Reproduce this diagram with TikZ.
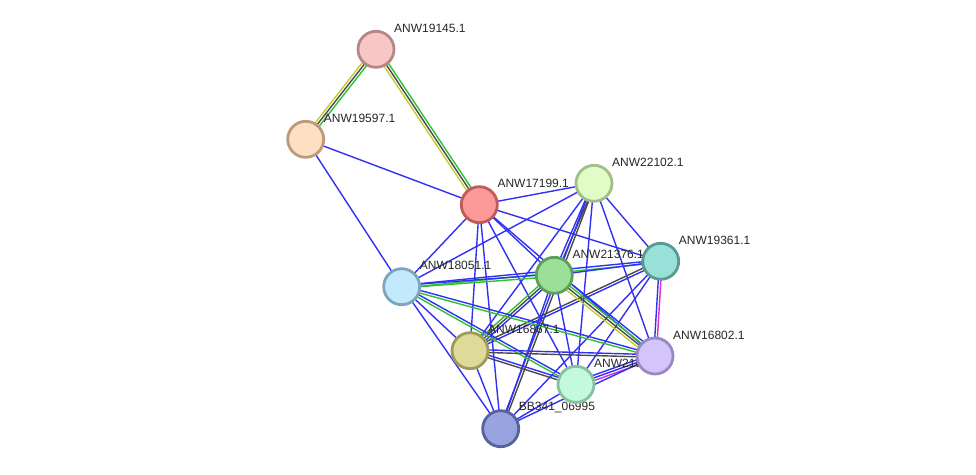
\documentclass[tikz,border=0pt]{standalone}
\usepackage{fontspec}
\setmainfont{Liberation Sans}
\usepackage{tikz}
\usetikzlibrary{calc}

\definecolor{lnblue}{HTML}{3131F5}
\definecolor{lngreen}{HTML}{2FC12F}
\definecolor{lngray}{HTML}{4A4A4A}
\definecolor{lnyellow}{HTML}{C4CC2E}
\definecolor{lnmagenta}{HTML}{D22ED2}

% parallel evidence lines between two proteins
\newcommand{\Link}[3]{
	\foreach \c [count=\i] in {#3} {\xdef\nlines{\i}}
	\foreach \c [count=\i] in {#3} {
		\pgfmathsetmacro{\off}{(\i-(\nlines+1)/2)*2.6}
		\draw[\c] ($(#1)!\off pt!90:(#2)$) -- ($(#2)!\off pt!-90:(#1)$);
	}
}
\newcommand{\Protein}[3]{
	\definecolor{pfill#1}{HTML}{#2}
	\definecolor{pdraw#1}{HTML}{#3}
	\node[prot, fill=pfill#1, draw=pdraw#1] (#1n) at (#1) {};
}
\newcommand{\Tag}[2]{
	\node[plabel] (#1l) at ($(#1)+(18,-21)$) {#2};
}

\begin{document}
\begin{tikzpicture}[x=1pt, y=-1pt,
	eb/.style={lnblue, line width=1.4pt},
	eg/.style={lngreen, line width=1.4pt},
	ek/.style={lngray, line width=1.4pt},
	ey/.style={lnyellow, line width=1.4pt},
	em/.style={lnmagenta, line width=1.4pt},
	prot/.style={circle, minimum size=36pt, inner sep=0pt, line width=2.8pt},
	plabel/.style={anchor=west, inner sep=0pt, font=\fontsize{12}{14}\selectfont, text=black!85}]

	\useasboundingbox (0,0) rectangle (976,474);

	\coordinate (A) at (376,49.3);
	\coordinate (B) at (305.7,139.3);
	\coordinate (C) at (479.3,204.7);
	\coordinate (D) at (594,183.3);
	\coordinate (E) at (660.7,261.3);
	\coordinate (F) at (554.3,275.3);
	\coordinate (G) at (401.7,286.7);
	\coordinate (H) at (470,350.7);
	\coordinate (I) at (655,356);
	\coordinate (J) at (576,384.3);
	\coordinate (K) at (500.7,428.7);

	\Link{A}{B}{ey,ek,eg}
	\Link{A}{C}{ey,ek,eg}
	\Link{B}{C}{eb}
	\Link{B}{G}{eb}
	\Link{C}{D}{eb}
	\Link{C}{E}{eb}
	\Link{C}{F}{eb}
	\Link{C}{I}{eb}
	\Link{C}{G}{eb}
	\Link{C}{H}{eb}
	\Link{C}{J}{eb}
	\Link{C}{K}{eb}
	\Link{D}{E}{eb}
	\Link{D}{F}{eb,ek}
	\Link{D}{K}{eb,ek}
	\Link{D}{G}{eb}
	\Link{D}{H}{eb}
	\Link{D}{I}{eb}
	\Link{D}{J}{eb}
	\Link{G}{E}{eg,eb}
	\Link{G}{F}{eg,eb}
	\Link{E}{F}{eb}
	\Link{E}{H}{ek,eb}
	\Link{E}{I}{eb,em}
	\Link{E}{J}{eb}
	\Link{E}{K}{eb}
	\Link{F}{H}{eg,ek,eb}
	\Link{F}{I}{ey,ek,eg,eb}
	\Link{F}{J}{eb}
	\Link{F}{K}{eb}
	\Link{G}{H}{eb}
	\Link{G}{I}{eg,eb}
	\Link{G}{J}{eg,eb}
	\Link{G}{K}{eb}
	\Link{H}{I}{ek,eb}
	\Link{H}{J}{ek,eb}
	\Link{H}{K}{eb}
	\Link{J}{I}{em,eb,eb}
	\Link{K}{I}{eb}
	\Link{K}{J}{eb}

	\Tag{A}{ANW19145.1}
	\Tag{B}{ANW19597.1}
	\Tag{C}{ANW17199.1}
	\Tag{D}{ANW22102.1}
	\Tag{E}{ANW19361.1}
	\Tag{F}{ANW21376.1}
	\Tag{G}{ANW18051.1}
	\Tag{H}{ANW16867.1}
	\Tag{I}{ANW16802.1}
	\Tag{J}{ANW21886.1}
	\Tag{K}{BB341\_06995}

	\Protein{A}{F7C7C7}{B98686}
	\Protein{B}{FDE0C3}{BD9B78}
	\Protein{C}{FD9999}{C05B5B}
	\Protein{D}{E1FCC6}{A1BF86}
	\Protein{E}{99E0D8}{5B9A93}
	\Protein{F}{9CDF98}{5E9F5B}
	\Protein{G}{C3E9FC}{7FA5BD}
	\Protein{H}{DEDA97}{9E9A5C}
	\Protein{I}{D3C5FC}{9888C3}
	\Protein{J}{C3FADC}{86C1A0}
	\Protein{K}{98A3DF}{58629F}

\end{tikzpicture}
\end{document}
